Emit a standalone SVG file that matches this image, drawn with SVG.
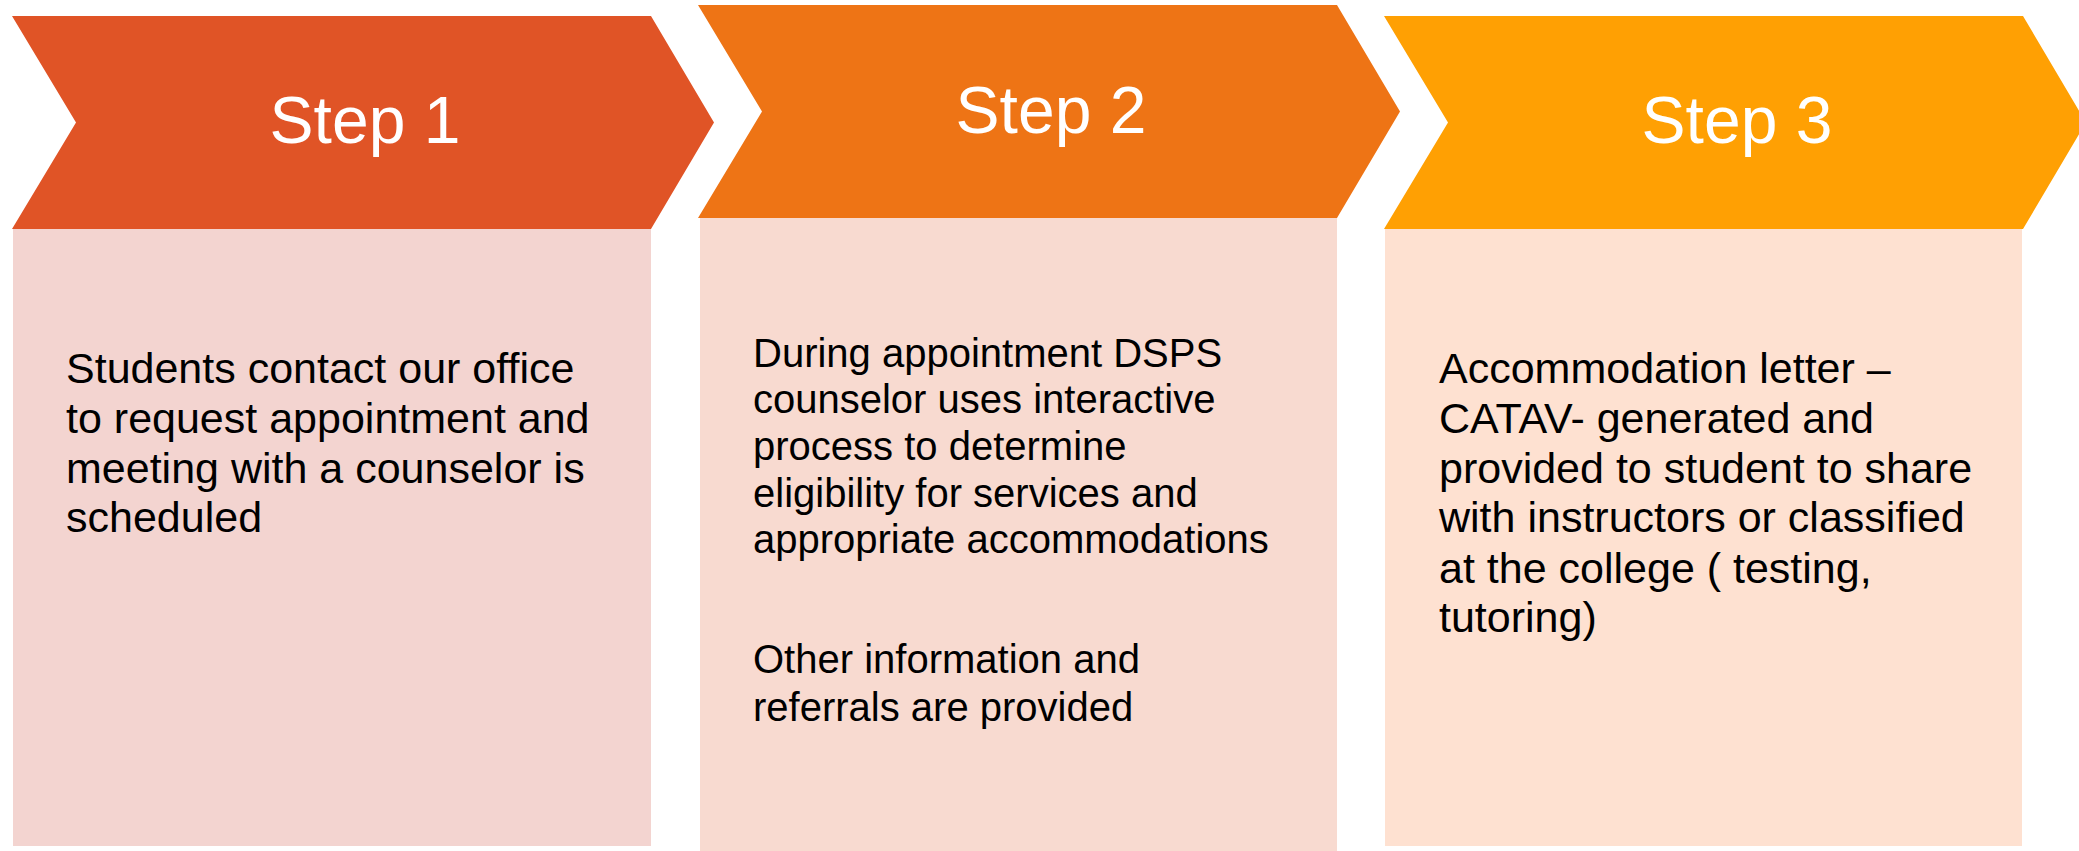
<svg xmlns="http://www.w3.org/2000/svg" width="2079" height="851" viewBox="0 0 2079 851">
<style>
.step{font-family:"Liberation Sans",Arial,sans-serif;font-size:66px;fill:#ffffff;text-anchor:middle}
.body{font-family:"Liberation Sans",Arial,sans-serif;font-size:43px;fill:#000000}
.body2{font-family:"Liberation Sans",Arial,sans-serif;font-size:40px;fill:#000000}
</style>
<rect width="2079" height="851" fill="#ffffff"/>
<g id="step1">
<rect x="13" y="229" width="638" height="617" fill="#F3D4D0"/>
<polygon points="12,16 651,16 714,122.5 651,229 12,229 76,122.5" fill="#E05426"/>
<text class="step" x="365" y="143">Step 1</text>
<text class="body" x="66" y="383">Students contact our office</text>
<text class="body" x="66" y="433">to request appointment and</text>
<text class="body" x="66" y="483">meeting with a counselor is</text>
<text class="body" x="66" y="532">scheduled</text>
</g>
<g id="step2">
<rect x="700" y="215" width="637" height="636" fill="#F8DAD0"/>
<polygon points="698,5 1337,5 1400,111.5 1337,218 698,218 762,111.5" fill="#EE7415"/>
<text class="step" x="1051" y="133">Step 2</text>
<text class="body2" x="753" y="367">During appointment DSPS</text>
<text class="body2" x="753" y="413">counselor uses interactive</text>
<text class="body2" x="753" y="460">process to determine</text>
<text class="body2" x="753" y="507">eligibility for services and</text>
<text class="body2" x="753" y="553">appropriate accommodations</text>
<text class="body2" x="753" y="673">Other information and</text>
<text class="body2" x="753" y="721">referrals are provided</text>
</g>
<g id="step3">
<rect x="1385" y="229" width="637" height="617" fill="#FEE1D1"/>
<polygon points="1384,16 2023,16 2086,122.5 2023,229 1384,229 1448,122.5" fill="#FFA003"/>
<text class="step" x="1737" y="143">Step 3</text>
<text class="body" x="1439" y="383">Accommodation letter –</text>
<text class="body" x="1439" y="433">CATAV- generated and</text>
<text class="body" x="1439" y="483">provided to student to share</text>
<text class="body" x="1439" y="532">with instructors or classified</text>
<text class="body" x="1439" y="583">at the college ( testing,</text>
<text class="body" x="1439" y="632">tutoring)</text>
</g>
</svg>
